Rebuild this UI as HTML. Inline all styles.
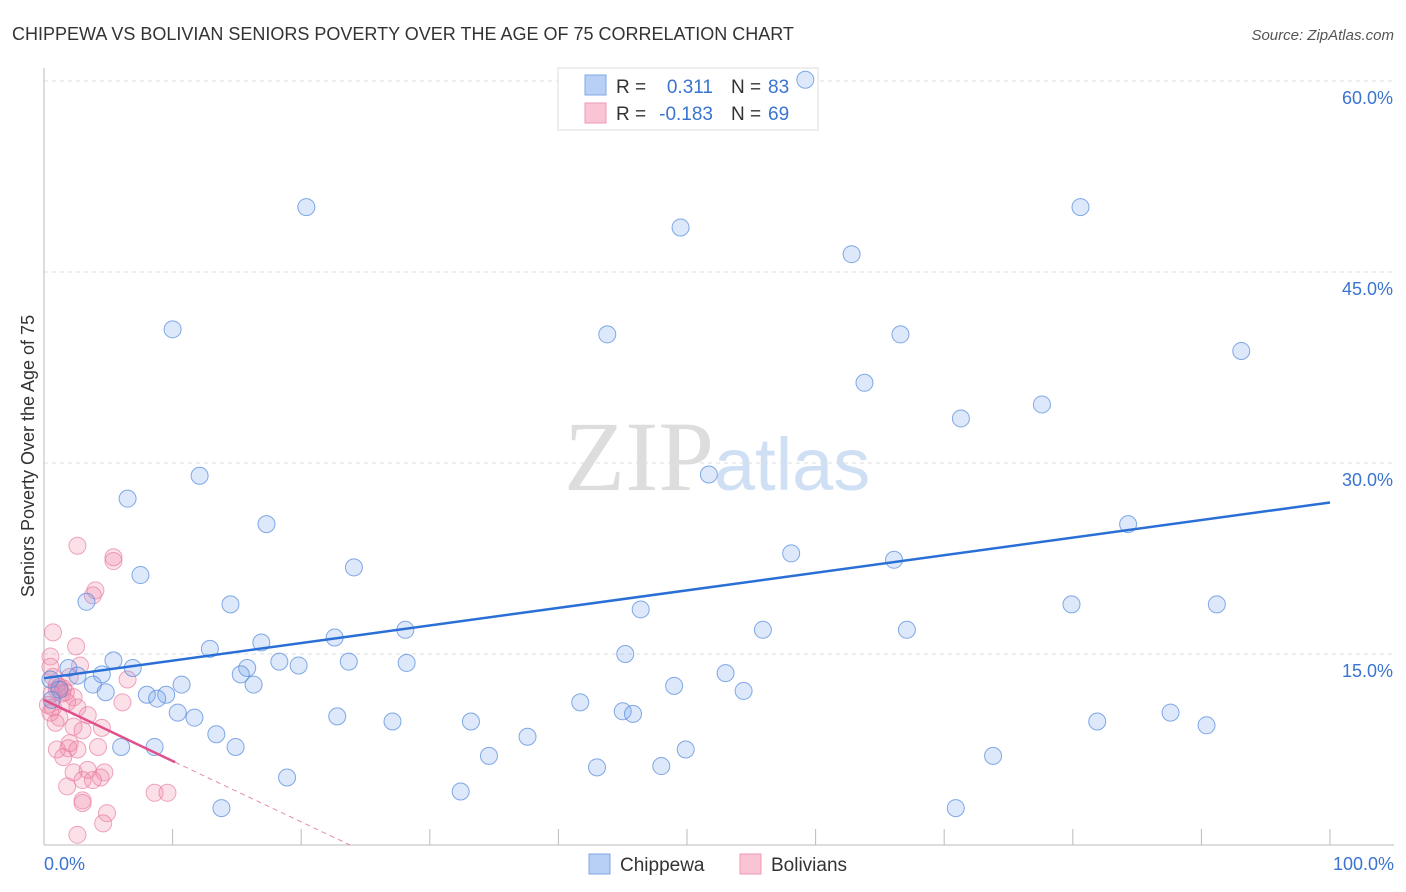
<!DOCTYPE html>
<html><head><meta charset="utf-8"><style>
body{margin:0;background:#fff;font-family:"Liberation Sans",sans-serif}
svg{display:block}
</style></head><body>
<svg id="c" width="1406" height="892" xmlns="http://www.w3.org/2000/svg">
<text x="12" y="40" font-size="18" fill="#333">CHIPPEWA VS BOLIVIAN SENIORS POVERTY OVER THE AGE OF 75 CORRELATION CHART</text>
<text x="1394" y="40" font-size="15" fill="#555" text-anchor="end" font-style="italic">Source: ZipAtlas.com</text>
<text x="714" y="490" font-size="100" fill="#ddd" text-anchor="end" font-family="Liberation Serif">ZIP</text>
<text x="714" y="490" font-size="74" fill="#cfe0f5">atlas</text>
<text transform="translate(34,456) rotate(-90)" font-size="18" fill="#333" text-anchor="middle">Seniors Poverty Over the Age of 75</text>
<g id="grid"></g>
<g>
<rect x="558" y="68" width="260" height="62" fill="#fff" stroke="#ddd"/>
<rect x="585" y="75" width="21" height="20" fill="#b8d0f5" stroke="#7fa8e8"/>
<rect x="585" y="103" width="21" height="20" fill="#f9c4d3" stroke="#ef9ab5"/>
<text x="616" y="93" font-size="19" fill="#333">R =</text><text x="713" y="93" font-size="19" fill="#3a74d0" text-anchor="end">0.311</text>
<text x="731" y="93" font-size="19" fill="#333">N =</text><text x="768" y="93" font-size="19" fill="#3a74d0">83</text>
<text x="616" y="120" font-size="19" fill="#333">R =</text><text x="713" y="120" font-size="19" fill="#3a74d0" text-anchor="end">-0.183</text>
<text x="731" y="120" font-size="19" fill="#333">N =</text><text x="768" y="120" font-size="19" fill="#3a74d0">69</text>
</g>
<g id="pts"></g><g id="lines"></g>
<g>
<rect x="589" y="854" width="21" height="20" fill="#b8d0f5" stroke="#7fa8e8"/>
<text x="620" y="871" font-size="19" fill="#333">Chippewa</text>
<rect x="740" y="854" width="21" height="20" fill="#f9c4d3" stroke="#ef9ab5"/>
<text x="771" y="871" font-size="19" fill="#333">Bolivians</text>
</g>
</svg>
<script>
const yTicks=[15,30,45,60];
const yTickLabels=["15.0%","30.0%","45.0%","60.0%"];
const xTickLabels=["0.0%","100.0%"];
const blueX=[59.2,20.4,49.5,80.6,62.8,10.0,43.8,66.6,93.1,63.8,71.3,77.6,12.1,51.7,6.5,17.3,84.3,58.1,66.1,24.1,7.5,3.3,14.5,46.4,79.9,91.2,28.1,55.9,67.1,16.9,22.6,12.9,45.2,5.4,18.3,23.7,28.2,19.8,6.9,1.9,15.8,15.3,4.5,2.6,53.0,10.7,3.8,16.3,49.0,54.4,4.8,8.0,9.5,8.8,41.7,10.4,11.7,45.0,45.8,87.6,22.8,27.1,33.2,81.9,90.4,13.4,37.6,6.0,8.6,14.9,49.9,34.6,73.8,18.9,43.0,48.0,32.4,13.8,70.9,0.6,1.2,0.5];
const blueY=[60.1,50.1,48.5,50.1,46.4,40.5,40.1,40.1,38.8,36.3,33.5,34.6,29.0,29.1,27.2,25.2,25.2,22.9,22.4,21.8,21.2,19.1,18.9,18.5,18.9,18.9,16.9,16.9,16.9,15.9,16.3,15.4,15.0,14.5,14.4,14.4,14.3,14.1,13.9,13.9,13.9,13.4,13.4,13.3,13.5,12.6,12.6,12.6,12.5,12.1,12.0,11.8,11.8,11.5,11.2,10.4,10.0,10.5,10.3,10.4,10.1,9.7,9.7,9.7,9.4,8.7,8.5,7.7,7.7,7.7,7.5,7.0,7.0,5.3,6.1,6.2,4.2,2.9,2.9,11.4,12.2,13.0];
const pinkX=[2.6,5.4,5.4,4.0,3.8,0.7,2.5,0.5,2.8,0.5,6.5,0.7,2.0,1.2,1.0,1.5,0.6,2.3,6.1,1.8,0.7,2.6,0.5,3.4,1.2,0.9,4.5,2.3,4.2,1.0,1.9,2.6,1.5,2.3,3.4,4.4,4.7,1.8,3.0,3.8,3.0,3.0,8.6,9.6,4.9,4.6,2.6,1.4,1.0,1.7,0.3,3.0,2.0];
const pinkY=[23.5,22.6,22.3,20.0,19.6,16.7,15.6,14.8,14.1,14.0,13.0,13.2,13.2,12.4,12.2,12.3,11.9,11.6,11.2,11.2,10.8,10.8,10.4,10.2,10.0,9.6,9.2,9.3,7.7,7.5,7.6,7.5,6.9,5.7,5.9,5.3,5.7,4.6,5.1,5.1,3.5,3.3,4.1,4.1,2.5,1.7,0.8,11.9,12.6,12.0,11.0,9.0,8.0];
const blueTrend=[13.1,26.9];
const pinkTrend=[11.4,6.5,0];
const pinkTrendX=[0,10.2,23.8];
const X=v=>44+v*12.86, Y=v=>845-v*12.733;
const NS="http://www.w3.org/2000/svg";
function mk(p,t,a){const e=document.createElementNS(NS,t);for(const k in a)e.setAttribute(k,a[k]);p.appendChild(e);return e;}
const g=document.getElementById('grid');
yTicks.forEach((t,i)=>{
 const l=mk(g,'line',{x1:44,x2:1394,y1:Y(t),y2:Y(t),stroke:'#ddd','stroke-dasharray':'4,4'});
 
 
 const tx=mk(g,'text',{x:1393,y:Y(t)+23,'font-size':18,fill:'#3a74d0','text-anchor':'end'});
 tx.textContent=yTickLabels[i];
 
 
});
const ax=mk(g,'line',{x1:44,x2:1394,y1:845,y2:845,stroke:'#bbb'});


const ay=mk(g,'line',{x1:44,x2:44,y1:68,y2:845,stroke:'#bbb'});


for(let i=1;i<=10;i++){const t=mk(g,'line',{x1:X(i*10),x2:X(i*10),y1:829,y2:845,stroke:'#bbb'});
 
 }
[[0,'start',44],[1,'end',1394]].forEach(([i,a,x])=>{const t=mk(g,'text',{x:x,y:870,'font-size':18,fill:'#3a74d0','text-anchor':a});t.textContent=xTickLabels[i];
 
 });
const pg=document.getElementById('pts');
pinkX.forEach((v,i)=>{const c=mk(pg,'circle',{cx:X(v),cy:Y(pinkY[i]),r:8.5,fill:'rgba(240,130,165,0.25)',stroke:'rgba(232,120,160,0.65)','stroke-width':1});
 
 });
blueX.forEach((v,i)=>{const c=mk(pg,'circle',{cx:X(v),cy:Y(blueY[i]),r:8.5,fill:'rgba(120,165,235,0.25)',stroke:'rgba(80,135,220,0.7)','stroke-width':1});
 
 });
const lg=document.getElementById('lines');
const bl=mk(lg,'line',{x1:X(0),y1:Y(blueTrend[0]),x2:X(100),y2:Y(blueTrend[1]),stroke:'#2a6fd6','stroke-width':2.5});


const pl=mk(lg,'line',{x1:X(pinkTrendX[0]),y1:Y(pinkTrend[0]),x2:X(pinkTrendX[1]),y2:Y(pinkTrend[1]),stroke:'#e0508a','stroke-width':2.5});


const pd=mk(lg,'line',{x1:X(pinkTrendX[1]),y1:Y(pinkTrend[1]),x2:X(pinkTrendX[2]),y2:Y(pinkTrend[2]),stroke:'#e88aaa','stroke-width':1,'stroke-dasharray':'5,4'});


</script>
</body></html>
